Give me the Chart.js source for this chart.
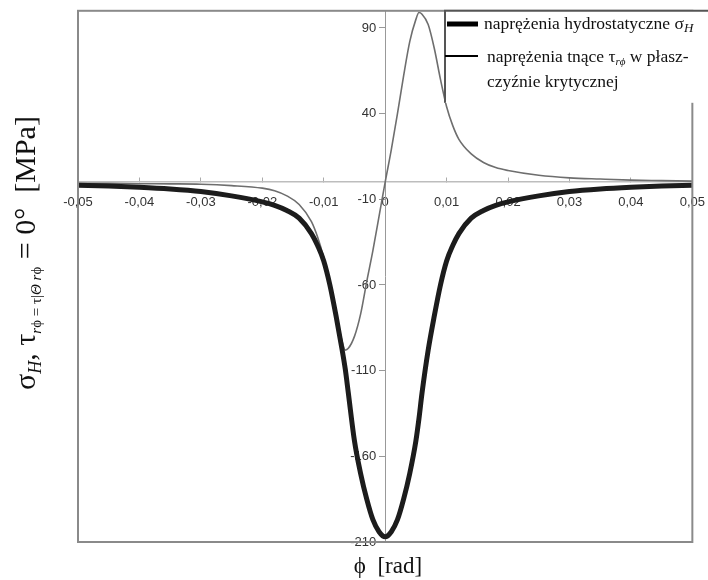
<!DOCTYPE html>
<html>
<head>
<meta charset="utf-8">
<script src="https://cdn.jsdelivr.net/npm/chart.js@4"></script>
<style>
  body { margin: 0; background: #fff; overflow: hidden; }
  #wrap { width: 722px; height: 580px; position: relative; }
</style>
</head>
<body>
<div id="wrap"><canvas id="stressChart"></canvas></div>
<script>
// phi [rad]
const phi = [-0.05, -0.045, -0.04, -0.035, -0.03, -0.025, -0.02, -0.018, -0.016, -0.014, -0.012, -0.011,
  -0.01, -0.009, -0.008, -0.007, -0.0065, -0.006, -0.005, -0.004, -0.003, -0.002, -0.001, 0,
  0.001, 0.002, 0.003, 0.004, 0.005, 0.0055, 0.006, 0.007, 0.008, 0.009, 0.01, 0.011,
  0.012, 0.014, 0.016, 0.018, 0.02, 0.025, 0.03, 0.035, 0.04, 0.045, 0.05];

// hydrostatic stress sigma_H [MPa]
const sigmaH = [-1.8, -2.3, -3, -4, -5.5, -8, -11.5, -13.5, -16.5, -21, -30, -37,
  -46, -60, -78, -98, -109, -123, -151, -170, -185, -197, -204, -207,
  -204, -197, -185, -170, -151, -138, -123, -98, -78, -60, -46, -37,
  -30, -21, -16.5, -13.5, -11.5, -8, -5.5, -4, -3, -2.3, -1.8];

// shear stress tau_rphi [MPa]
const tauRphi = [-0.6, -0.7, -0.9, -1.0, -1.2, -2, -3.5, -5, -8, -13, -23, -32,
  -44, -59, -77, -93, -98, -97, -90, -77, -58, -40, -20, 0,
  19, 40, 62, 82, 95, 99, 98, 92, 78, 60, 44, 33,
  25, 16.5, 11.5, 8.5, 6.8, 4, 2.5, 1.8, 1.2, 0.9, 0.6];

const xTicks = [-0.05, -0.04, -0.03, -0.02, -0.01, 0, 0.01, 0.02, 0.03, 0.04, 0.05];
const yTicks = [-210, -160, -110, -60, -10, 40, 90];

const serif = '"Liberation Serif", "Times New Roman", serif';
const sans = '"Liberation Sans", Arial, sans-serif';

function drawRuns(ctx, runs, x, y) {
  let cx = x;
  runs.forEach(r => {
    ctx.font = r.font;
    ctx.fillText(r.t, cx, y + (r.dy || 0));
    cx += ctx.measureText(r.t).width;
  });
  return cx - x;
}
function runsWidth(ctx, runs) {
  let w = 0;
  runs.forEach(r => { ctx.font = r.font; w += ctx.measureText(r.t).width; });
  return w;
}

const decorPlugin = {
  id: 'decor',
  beforeDraw(chart) {
    // move the y tick labels off the centred axis line
    const items = chart.scales.y.getLabelItems();
    items.forEach(it => {
      if (!it._shifted) {
        it.options.translation[0] -= 9;
        it._shifted = true;
      }
    });
  },
  afterDraw(chart) {
    const ctx = chart.ctx;
    const a = chart.chartArea;
    ctx.save();
    // plot frame
    ctx.strokeStyle = '#8a8a8a';
    ctx.lineWidth = 2;
    ctx.strokeRect(a.left, a.top, a.right - a.left, a.bottom - a.top);

    // legend box
    const lx = 445, ly = a.top, lh = 92;
    ctx.fillStyle = '#fff';
    ctx.fillRect(lx, ly, chart.width - lx, lh);
    ctx.strokeStyle = '#555';
    ctx.lineWidth = 2;
    ctx.beginPath();
    ctx.moveTo(lx, ly + lh); ctx.lineTo(lx, ly); ctx.lineTo(chart.width, ly);
    ctx.stroke();
    ctx.strokeStyle = '#000';
    ctx.lineWidth = 5;
    ctx.beginPath(); ctx.moveTo(lx + 2, 24); ctx.lineTo(478, 24); ctx.stroke();
    ctx.lineWidth = 2;
    ctx.beginPath(); ctx.moveTo(lx, 56); ctx.lineTo(478, 56); ctx.stroke();

    ctx.fillStyle = '#111';
    ctx.textBaseline = 'alphabetic';
    ctx.textAlign = 'left';
    const f = '17.5px ' + serif;
    drawRuns(ctx, [
      { t: 'naprężenia hydrostatyczne σ', font: f },
      { t: 'H', font: 'italic 13px ' + serif, dy: 3 }
    ], 484, 29);
    drawRuns(ctx, [
      { t: 'naprężenia tnące τ', font: f },
      { t: 'rϕ', font: 'italic 11px ' + serif, dy: 3 },
      { t: ' w płasz-', font: f }
    ], 487, 62);
    drawRuns(ctx, [{ t: 'czyźnie krytycznej', font: f }], 487, 87);

    // x axis title
    ctx.textAlign = 'center';
    ctx.font = '23px ' + serif;
    ctx.fillText('ϕ  [rad]', 388, 573);

    // y axis title (rotated)
    const big = '30px ' + serif;
    const sub = '15px ' + serif;
    const subI = 'italic 15px ' + serif;
    const yRuns = [
      { t: 'σ', font: big },
      { t: 'H', font: 'italic 18px ' + serif, dy: 6 },
      { t: ', τ', font: big },
      { t: 'r', font: subI, dy: 6 },
      { t: 'ϕ = τ|', font: sub, dy: 6 },
      { t: 'Θ ', font: subI, dy: 6 },
      { t: 'r', font: subI, dy: 6 },
      { t: 'ϕ', font: sub, dy: 6 },
      { t: ' = 0°  [MPa]', font: big }
    ];
    ctx.textAlign = 'left';
    ctx.translate(35, 253);
    ctx.rotate(-Math.PI / 2);
    const w = runsWidth(ctx, yRuns);
    drawRuns(ctx, yRuns, -w / 2, 0);
    ctx.restore();
  }
};

const ctx = document.getElementById('stressChart').getContext('2d');
new Chart(ctx, {
  type: 'line',
  data: {
    datasets: [
      {
        label: 'naprężenia hydrostatyczne',
        data: phi.map((x, i) => ({ x: x, y: sigmaH[i] })),
        borderColor: '#1c1c1c',
        borderWidth: 5,
        pointRadius: 0,
        cubicInterpolationMode: 'monotone',
        fill: false
      },
      {
        label: 'naprężenia tnące',
        data: phi.map((x, i) => ({ x: x, y: tauRphi[i] })),
        borderColor: '#6e6e6e',
        borderWidth: 1.6,
        pointRadius: 0,
        cubicInterpolationMode: 'monotone',
        fill: false
      }
    ]
  },
  options: {
    responsive: true,
    maintainAspectRatio: false,
    animation: false,
    layout: { padding: { left: 78, right: 0, top: 5, bottom: 38 } },
    plugins: {
      legend: { display: false },
      tooltip: { enabled: false }
    },
    scales: {
      x: {
        type: 'linear',
        min: -0.05,
        max: 0.05,
        position: { y: 0 },
        afterBuildTicks: axis => { axis.ticks = xTicks.map(v => ({ value: v })); },
        grid: { drawOnChartArea: false, tickLength: -5, color: '#aaa' },
        border: { color: '#bdbdbd', width: 1.5 },
        ticks: {
          padding: 17,
          color: '#333',
          font: { family: sans, size: 13 },
          maxRotation: 0,
          callback: v => v === 0 ? '0' : v.toFixed(2).replace('.', ',')
        }
      },
      y: {
        type: 'linear',
        min: -210,
        max: 100,
        position: { x: 0 },
        afterBuildTicks: axis => { axis.ticks = yTicks.map(v => ({ value: v })); },
        grid: { drawOnChartArea: false, tickLength: 6, color: '#999' },
        border: { color: '#999', width: 1 },
        ticks: {
          padding: 3,
          color: '#333',
          font: { family: sans, size: 13 }
        }
      }
    }
  },
  plugins: [decorPlugin]
});
</script>
</body>
</html>
